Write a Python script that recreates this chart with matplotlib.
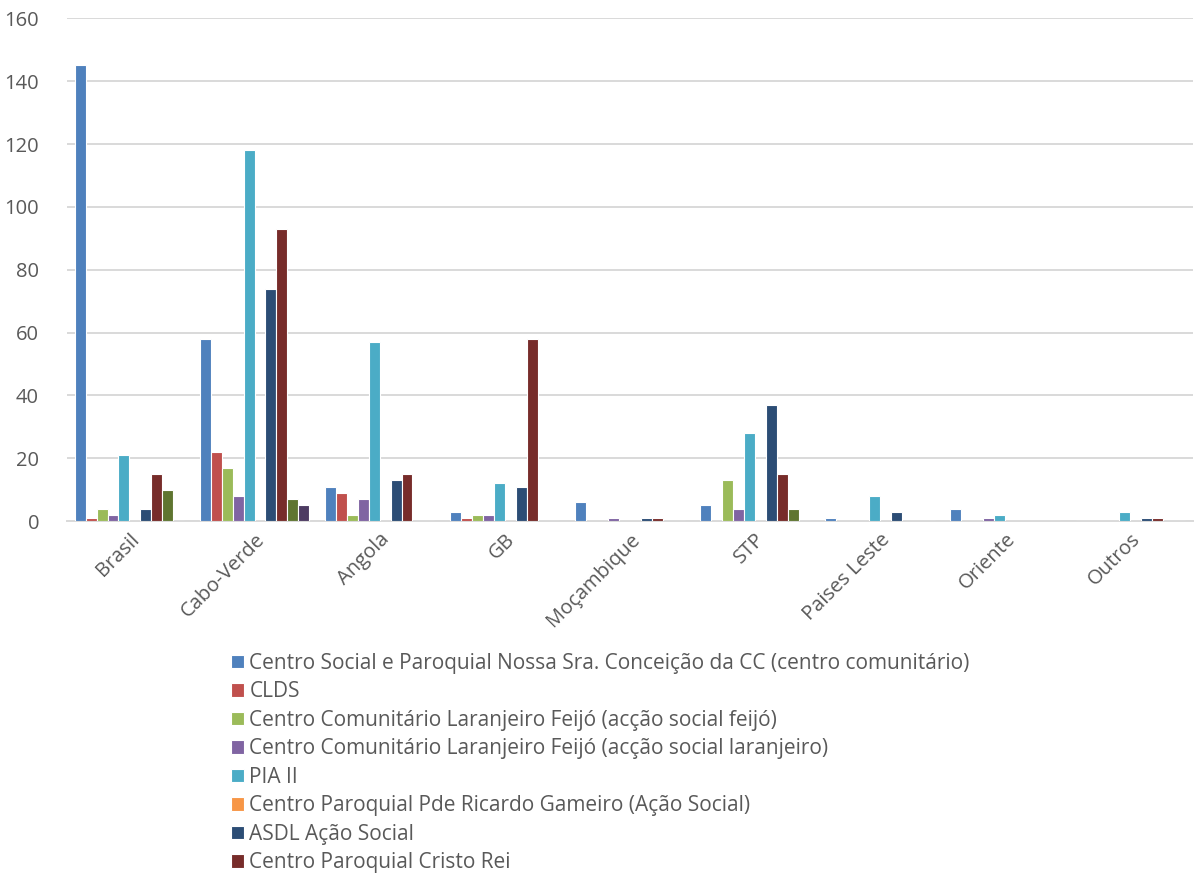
import numpy as np
import matplotlib
matplotlib.use("Agg")
import matplotlib.pyplot as plt

plt.rcParams["font.family"] = ["Open Sans", "DejaVu Sans"]

categories = ["Brasil", "Cabo-Verde", "Angola", "GB", "Moçambique", "STP",
              "Paises Leste", "Oriente", "Outros"]

series_names = [
    "Centro Social e Paroquial Nossa Sra. Conceição da CC (centro comunitário)",
    "CLDS",
    "Centro Comunitário Laranjeiro Feijó (acção social feijó)",
    "Centro Comunitário Laranjeiro Feijó (acção social laranjeiro)",
    "PIA II",
    "Centro Paroquial Pde Ricardo Gameiro (Ação Social)",
    "ASDL Ação Social",
    "Centro Paroquial Cristo Rei",
    "Série 9",
    "Série 10",
]

centro_social = [145, 58, 11, 3, 6, 5, 1, 4, 0]
clds = [1, 22, 9, 1, 0, 0, 0, 0, 0]
feijo = [4, 17, 2, 2, 0, 13, 0, 0, 0]
laranjeiro = [2, 8, 7, 2, 1, 4, 0, 1, 0]
pia_ii = [21, 118, 57, 12, 0, 28, 8, 2, 3]
gameiro = [0, 0, 0, 0, 0, 0, 0, 0, 0]
asdl = [4, 74, 13, 11, 1, 37, 3, 0, 1]
cristo_rei = [15, 93, 15, 58, 1, 15, 0, 0, 1]
serie_9 = [10, 7, 0, 0, 0, 4, 0, 0, 0]
serie_10 = [0, 5, 0, 0, 0, 0, 0, 0, 0]

values = [centro_social, clds, feijo, laranjeiro, pia_ii, gameiro,
          asdl, cristo_rei, serie_9, serie_10]

colors = ["#4F81BD", "#C0504D", "#9BBB59", "#8064A2", "#4BACC6", "#F79646",
          "#2C4D75", "#772C2A", "#5F7530", "#4D3B62"]

text_color = "#595959"
grid_color = "#D9D9D9"

fig = plt.figure(figsize=(11.94, 8.73), dpi=100)
ax = fig.add_axes([0.056, 0.403, 0.943, 0.576])

x = np.arange(len(categories))
n = len(values)
group = 0.875
w = group / n
handles = []
for i, (vals, c) in enumerate(zip(values, colors)):
    offs = -group / 2 + w * (i + 0.5)
    b = ax.bar(x + offs, vals, width=w, color=c, edgecolor="white",
               linewidth=0.8, zorder=3)
    handles.append(b)

ax.set_xlim(-0.5, len(categories) - 0.5)
ax.set_ylim(0, 160)
ax.set_yticks(range(0, 161, 20))
ax.yaxis.grid(True, color=grid_color, linewidth=1.4, zorder=0)
ax.set_axisbelow(True)
for s in ["top", "right", "left"]:
    ax.spines[s].set_visible(False)
ax.spines["bottom"].set_color(grid_color)
ax.spines["bottom"].set_linewidth(1.4)
ax.tick_params(axis="both", length=0, colors=text_color)
ax.tick_params(axis="y", pad=20, labelsize=14.5)
ax.tick_params(axis="x", pad=6, labelsize=14.5)
ax.set_xticks(x)
ax.set_xticklabels(categories, rotation=45, ha="right", rotation_mode="anchor")

leg = fig.legend(handles[:8], series_names[:8], loc="upper left",
                 bbox_to_anchor=(0.185, 0.264), frameon=False, fontsize=15,
                 labelcolor=text_color, handlelength=0.62, handleheight=0.62,
                 handletextpad=0.25, labelspacing=0.36, borderpad=0)

fig.savefig("out.png", dpi=100)
